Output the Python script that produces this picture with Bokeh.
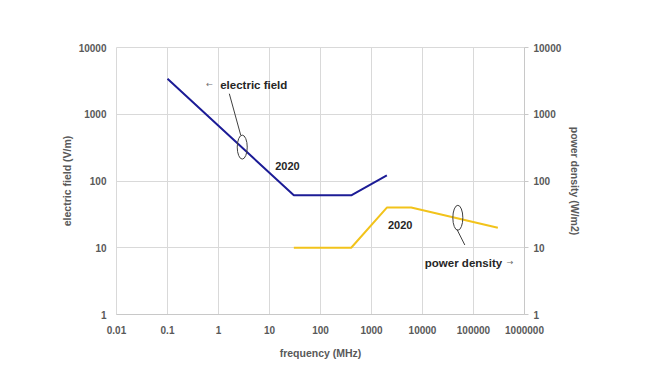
from bokeh.plotting import figure
from bokeh.models import Range1d, LogScale, LogAxis, FixedTicker, CustomJSTickFormatter
from bokeh.core.properties import value
from bokeh.embed import file_html
from bokeh.resources import INLINE

# data
ef_freq = [0.1, 30, 400, 2000]
ef_vals = [3400, 61, 61, 121]
pd_freq = [30, 400, 2000, 6000, 300000]
pd_vals = [10, 10, 40, 40, 20]

x_ticks = [0.01, 0.1, 1, 10, 100, 1000, 10000, 100000, 1000000]
x_labels = ["0.01", "0.1", "1", "10", "100", "1000", "10000", "100000", "1000000"]
y_ticks = [1, 10, 100, 1000, 10000]
y_labels = ["1", "10", "100", "1000", "10000"]

FONT = "Liberation Sans"
GRAY = "#595959"
GRID = "#d9d9d9"

p = figure(width=641, height=361, x_axis_type="log", y_axis_type="log",
           x_range=Range1d(0.01, 1000000), y_range=Range1d(1, 10000),
           output_backend="svg", toolbar_location=None,
           min_border_left=116, min_border_right=117, min_border_top=47, min_border_bottom=44)
p.extra_y_ranges = {"pd": Range1d(1, 10000)}
p.extra_y_scales = {"pd": LogScale()}

def fmt(tv, lv):
    return CustomJSTickFormatter(args=dict(tv=tv, lv=lv), code="""
        let best = 0, bd = 1e99;
        for (let i = 0; i < tv.length; i++) {
            const d = Math.abs(Math.log10(tv[i]) - Math.log10(tick));
            if (d < bd) { bd = d; best = i; }
        }
        return lv[best];
    """)

def style(ax):
    ax.major_label_text_font = FONT
    ax.major_label_text_font_style = "bold"
    ax.major_label_text_font_size = "10px"
    ax.major_label_text_color = GRAY
    ax.axis_label_text_font = FONT
    ax.axis_label_text_font_style = "bold"
    ax.axis_label_text_font_size = "10.5px"
    ax.axis_label_text_color = GRAY
    ax.minor_tick_line_color = None

xa = p.xaxis[0]
xa.ticker = FixedTicker(ticks=x_ticks)
xa.formatter = fmt(x_ticks, x_labels)
xa.axis_label = "frequency (MHz)"
style(xa)
xa.major_tick_line_color = None
xa.major_tick_out = 0
xa.major_label_standoff = 11
xa.axis_label_standoff = 10
xa.axis_line_color = "#c8c8c8"

ya = p.yaxis[0]
ya.ticker = FixedTicker(ticks=y_ticks)
ya.formatter = fmt(y_ticks, y_labels)
ya.axis_label = "electric field (V/m)"
style(ya)
ya.major_tick_line_color = None
ya.major_tick_out = 0
ya.major_label_standoff = 10
ya.axis_label_standoff = 3
ya.axis_line_color = None

ra = LogAxis(y_range_name="pd", ticker=FixedTicker(ticks=y_ticks),
             formatter=fmt(y_ticks, y_labels), axis_label="power density (W/m2)")
style(ra)
ra.axis_line_color = "#c8c8c8"
ra.major_tick_line_color = "#c8c8c8"
ra.major_tick_in = 0
ra.major_tick_out = 4
ra.major_label_standoff = 5
ra.axis_label_standoff = 5
p.add_layout(ra, "right")

p.xgrid.ticker = FixedTicker(ticks=x_ticks)
p.ygrid.ticker = FixedTicker(ticks=y_ticks)
p.xgrid.grid_line_color = GRID
p.ygrid.grid_line_color = GRID
p.outline_line_color = GRID
p.background_fill_color = "white"
p.border_fill_color = "white"

p.line(ef_freq, ef_vals, line_color="#1c1c96", line_width=2)
p.line(pd_freq, pd_vals, line_color="#f2c31b", line_width=2, y_range_name="pd")

# annotation leaders and loops
LOOP = "#404040"
p.line([1.63, 2.73], [2030, 485], line_color=LOOP, line_width=1)
p.ellipse(x=[2.92], y=[322], width=10, height=24, width_units="screen", height_units="screen",
          fill_color=None, line_color=LOOP, line_width=1)
p.ellipse(x=[49300], y=[28.1], width=10, height=25, width_units="screen", height_units="screen",
          fill_color=None, line_color=LOOP, line_width=1)
p.line([47100, 67600], [19.0, 11.0], line_color=LOOP, line_width=1)

TXT = "#262626"
p.text(x=[1.08], y=[2760], text=["electric field"], text_font=value(FONT), text_font_style="bold",
       text_font_size="11.5px", text_color=TXT, text_baseline="middle", text_align="left")
p.text(x=[0.577], y=[2760], text=["\u2190"], text_font=value("DejaVu Sans"),
       text_font_size="8px", text_color="#707070", text_baseline="middle", text_align="left")
p.text(x=[12.9], y=[169], text=["2020"], text_font=value(FONT), text_font_style="bold",
       text_font_size="11px", text_color=TXT, text_baseline="middle", text_align="left")
p.text(x=[2100], y=[21.8], text=["2020"], text_font=value(FONT), text_font_style="bold",
       text_font_size="11px", text_color=TXT, text_baseline="middle", text_align="left")
p.text(x=[11100], y=[5.96], text=["power density"], text_font=value(FONT), text_font_style="bold",
       text_font_size="11.5px", text_color=TXT, text_baseline="middle", text_align="left")
p.text(x=[450000], y=[5.96], text=["\u2192"], text_font=value("DejaVu Sans"),
       text_font_size="8px", text_color="#707070", text_baseline="middle", text_align="left")

open("out.html", "w").write(file_html(p, INLINE))
